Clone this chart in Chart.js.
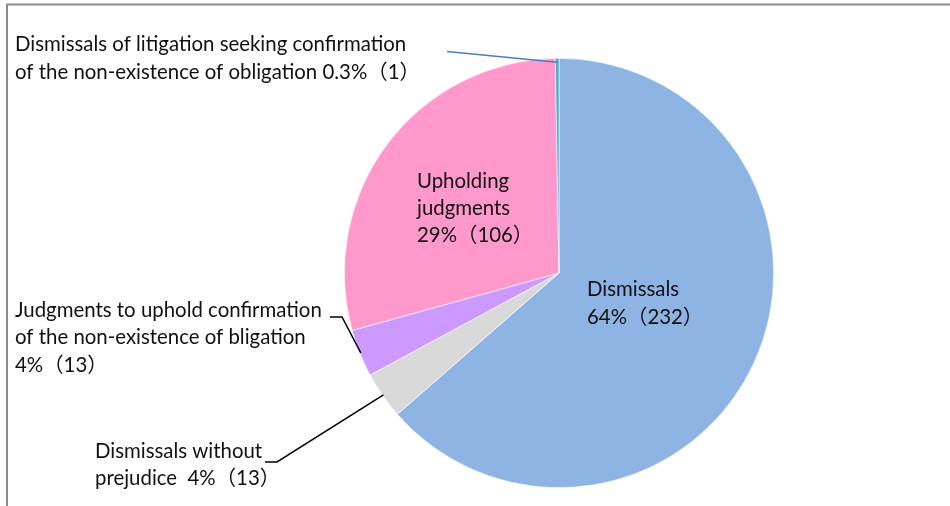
<!DOCTYPE html>
<html>
<head>
<meta charset="utf-8">
<script src="https://cdn.jsdelivr.net/npm/chart.js@4"></script>
<style>
 html, body { margin: 0; padding: 0; background: #fff; }
 #wrap { width: 950px; height: 506px; position: relative; }
</style>
</head>
<body>
<div id="wrap"><canvas id="myChart" width="950" height="506"></canvas></div>
<script>
'use strict';

var categories = [
 'Dismissals',
 'Dismissals without prejudice',
 'Judgments to uphold confirmation of the non-existence of bligation',
 'Upholding judgments',
 'Dismissals of litigation seeking confirmation of the non-existence of obligation'
];
var counts = [232, 13, 13, 106, 1];
var percents = ['64%', '4%', '4%', '29%', '0.3%'];
var colors = ['#8EB4E3', '#D9D9D9', '#CC99FF', '#FF99CC', '#4BACC6'];

// label text lines per slice (built from the arrays above)
var labelLines = [
 ['Dismissals', percents[0] + '（' + counts[0] + '）'],
 ['Dismissals without', 'prejudice  ' + percents[1] + '（' + counts[1] + '）'],
 ['Judgments to uphold confirmation', 'of the non-existence of bligation', percents[2] + '（' + counts[2] + '）'],
 ['Upholding', 'judgments', percents[3] + '（' + counts[3] + '）'],
 ['Dismissals of litigation seeking confirmation', 'of the non-existence of obligation ' + percents[4] + '（' + counts[4] + '）']
];
// where each label sits: left x, first baseline, line step
var labelPos = [
 { x: 587, y: 296, step: 28 },
 { x: 95, y: 458, step: 27 },
 { x: 15, y: 317, step: 27.3 },
 { x: 417, y: 188, step: 27 },
 { x: 15, y: 51, step: 28 }
];
// leader lines: elbow points near the label, then to the slice edge
var leaders = [
 null,
 { pts: [[265, 462], [277, 462]], inset: 1, color: '#000' },
 { pts: [[330, 317], [342, 317]], inset: 1, color: '#000' },
 null,
 { pts: [[447, 51.5]], inset: 4, color: '#4A7EBB' }
];

var ctx = document.getElementById('myChart');

var frame = {
 id: 'frame',
 beforeDraw: function (chart) {
  var c = chart.ctx;
  c.save();
  c.strokeStyle = '#8C8C8C';
  c.lineWidth = 2;
  c.beginPath();
  c.moveTo(7, 506);
  c.lineTo(7, 4.5);
  c.lineTo(950, 4.5);
  c.stroke();
  c.restore();
 }
};

var labels = {
 id: 'labels',
 afterDraw: function (chart) {
  var c = chart.ctx;
  var arcs = chart.getDatasetMeta(0).data;
  c.save();
  leaders.forEach(function (ld, i) {
   if (!ld) return;
   var arc = arcs[i];
   var mid = (arc.startAngle + arc.endAngle) / 2;
   var r = arc.outerRadius - ld.inset;
   c.strokeStyle = ld.color;
   c.lineWidth = 1.5;
   c.beginPath();
   c.moveTo(ld.pts[0][0], ld.pts[0][1]);
   for (var k = 1; k < ld.pts.length; k++) c.lineTo(ld.pts[k][0], ld.pts[k][1]);
   c.lineTo(arc.x + r * Math.cos(mid), arc.y + r * Math.sin(mid));
   c.stroke();
  });
  c.fillStyle = '#111';
  c.font = '20.4px Lato, "Noto Sans CJK JP", sans-serif';
  c.textAlign = 'left';
  c.textBaseline = 'alphabetic';
  labelLines.forEach(function (lines, i) {
   var p = labelPos[i];
   lines.forEach(function (t, j) {
    c.fillText(t, p.x, p.y + j * p.step);
   });
  });
  c.restore();
 }
};

new Chart(ctx, {
 type: 'pie',
 data: {
  labels: categories,
  datasets: [{
   data: counts,
   backgroundColor: colors,
   borderColor: '#fff',
   borderWidth: 0.6
  }]
 },
 options: {
  responsive: false,
  animation: false,
  layout: { padding: { left: 344, right: 176, top: 57, bottom: 17 } },
  plugins: {
   legend: { display: false },
   tooltip: { enabled: false }
  }
 },
 plugins: [frame, labels]
});
</script>
</body>
</html>
